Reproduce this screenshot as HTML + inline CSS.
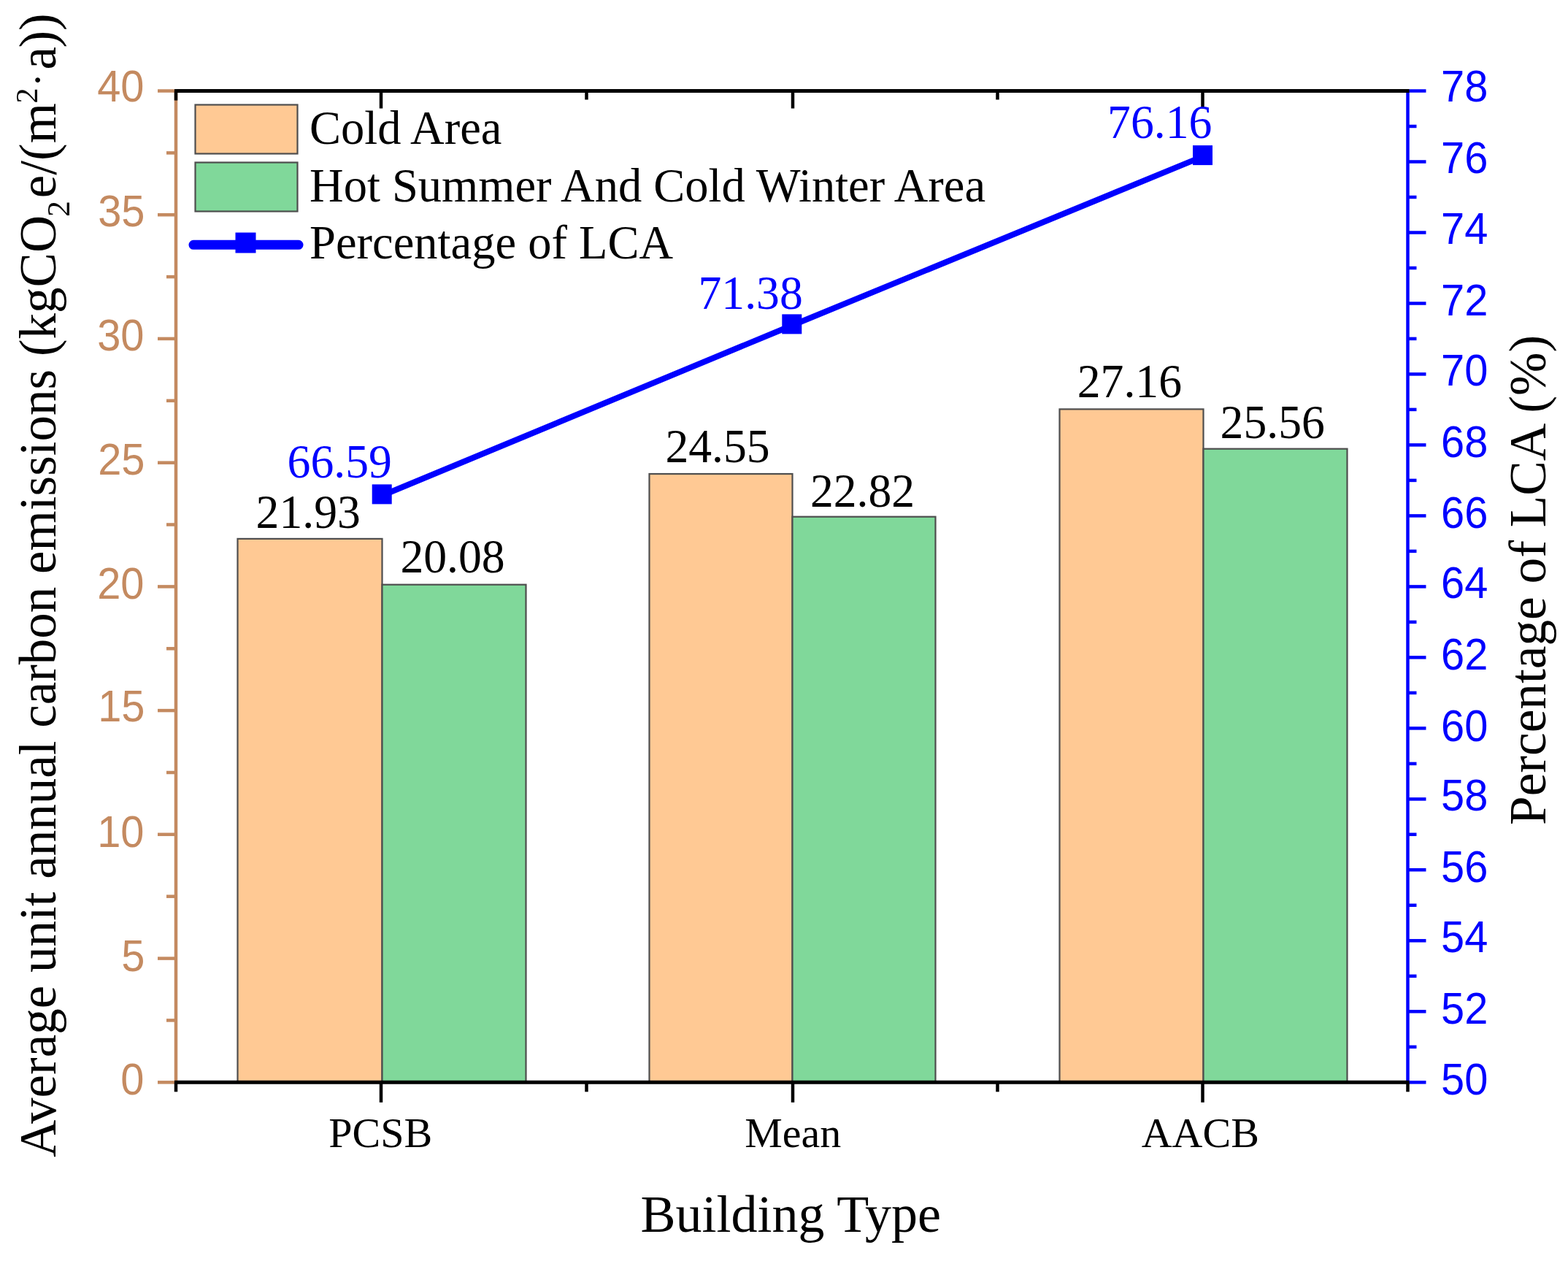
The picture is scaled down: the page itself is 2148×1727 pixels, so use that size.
<!DOCTYPE html>
<html><head><meta charset="utf-8"><title>Building Type chart</title>
<style>html,body{margin:0;padding:0;background:#fff;width:2148px;height:1727px;overflow:hidden}svg{display:block}</style>
</head><body>
<svg width="2148" height="1727" viewBox="0 0 2148 1727">
<rect width="2148" height="1727" fill="#fff"/>
<rect x="325.5" y="737.9" width="198.0" height="744.4" fill="#FFC994" stroke="#4e4e4e" stroke-width="2.2"/>
<rect x="523.5" y="800.7" width="197.0" height="681.6" fill="#80D89A" stroke="#4e4e4e" stroke-width="2.2"/>
<rect x="889.5" y="649.0" width="196.0" height="833.3" fill="#FFC994" stroke="#4e4e4e" stroke-width="2.2"/>
<rect x="1085.5" y="707.7" width="196.0" height="774.6" fill="#80D89A" stroke="#4e4e4e" stroke-width="2.2"/>
<rect x="1451.5" y="560.4" width="197.0" height="921.9" fill="#FFC994" stroke="#4e4e4e" stroke-width="2.2"/>
<rect x="1648.5" y="614.7" width="197.0" height="867.6" fill="#80D89A" stroke="#4e4e4e" stroke-width="2.2"/>
<line x1="241" y1="124.5" x2="241" y2="1482.3" stroke="#C48A60" stroke-width="4.5"/>
<line x1="216" y1="1482.3" x2="241" y2="1482.3" stroke="#C48A60" stroke-width="4.5"/>
<line x1="228" y1="1397.4" x2="241" y2="1397.4" stroke="#C48A60" stroke-width="4.5"/>
<line x1="216" y1="1312.6" x2="241" y2="1312.6" stroke="#C48A60" stroke-width="4.5"/>
<line x1="228" y1="1227.7" x2="241" y2="1227.7" stroke="#C48A60" stroke-width="4.5"/>
<line x1="216" y1="1142.8" x2="241" y2="1142.8" stroke="#C48A60" stroke-width="4.5"/>
<line x1="228" y1="1058.0" x2="241" y2="1058.0" stroke="#C48A60" stroke-width="4.5"/>
<line x1="216" y1="973.1" x2="241" y2="973.1" stroke="#C48A60" stroke-width="4.5"/>
<line x1="228" y1="888.3" x2="241" y2="888.3" stroke="#C48A60" stroke-width="4.5"/>
<line x1="216" y1="803.4" x2="241" y2="803.4" stroke="#C48A60" stroke-width="4.5"/>
<line x1="228" y1="718.5" x2="241" y2="718.5" stroke="#C48A60" stroke-width="4.5"/>
<line x1="216" y1="633.7" x2="241" y2="633.7" stroke="#C48A60" stroke-width="4.5"/>
<line x1="228" y1="548.8" x2="241" y2="548.8" stroke="#C48A60" stroke-width="4.5"/>
<line x1="216" y1="463.9" x2="241" y2="463.9" stroke="#C48A60" stroke-width="4.5"/>
<line x1="228" y1="379.1" x2="241" y2="379.1" stroke="#C48A60" stroke-width="4.5"/>
<line x1="216" y1="294.2" x2="241" y2="294.2" stroke="#C48A60" stroke-width="4.5"/>
<line x1="228" y1="209.4" x2="241" y2="209.4" stroke="#C48A60" stroke-width="4.5"/>
<line x1="216" y1="124.5" x2="241" y2="124.5" stroke="#C48A60" stroke-width="4.5"/>
<line x1="1928.5" y1="124.5" x2="1928.5" y2="1482.3" stroke="#0000FF" stroke-width="4.5"/>
<line x1="1928.5" y1="1482.3" x2="1953.5" y2="1482.3" stroke="#0000FF" stroke-width="4.5"/>
<line x1="1928.5" y1="1433.8" x2="1940.5" y2="1433.8" stroke="#0000FF" stroke-width="4.5"/>
<line x1="1928.5" y1="1385.3" x2="1953.5" y2="1385.3" stroke="#0000FF" stroke-width="4.5"/>
<line x1="1928.5" y1="1336.8" x2="1940.5" y2="1336.8" stroke="#0000FF" stroke-width="4.5"/>
<line x1="1928.5" y1="1288.3" x2="1953.5" y2="1288.3" stroke="#0000FF" stroke-width="4.5"/>
<line x1="1928.5" y1="1239.8" x2="1940.5" y2="1239.8" stroke="#0000FF" stroke-width="4.5"/>
<line x1="1928.5" y1="1191.3" x2="1953.5" y2="1191.3" stroke="#0000FF" stroke-width="4.5"/>
<line x1="1928.5" y1="1142.8" x2="1940.5" y2="1142.8" stroke="#0000FF" stroke-width="4.5"/>
<line x1="1928.5" y1="1094.4" x2="1953.5" y2="1094.4" stroke="#0000FF" stroke-width="4.5"/>
<line x1="1928.5" y1="1045.9" x2="1940.5" y2="1045.9" stroke="#0000FF" stroke-width="4.5"/>
<line x1="1928.5" y1="997.4" x2="1953.5" y2="997.4" stroke="#0000FF" stroke-width="4.5"/>
<line x1="1928.5" y1="948.9" x2="1940.5" y2="948.9" stroke="#0000FF" stroke-width="4.5"/>
<line x1="1928.5" y1="900.4" x2="1953.5" y2="900.4" stroke="#0000FF" stroke-width="4.5"/>
<line x1="1928.5" y1="851.9" x2="1940.5" y2="851.9" stroke="#0000FF" stroke-width="4.5"/>
<line x1="1928.5" y1="803.4" x2="1953.5" y2="803.4" stroke="#0000FF" stroke-width="4.5"/>
<line x1="1928.5" y1="754.9" x2="1940.5" y2="754.9" stroke="#0000FF" stroke-width="4.5"/>
<line x1="1928.5" y1="706.4" x2="1953.5" y2="706.4" stroke="#0000FF" stroke-width="4.5"/>
<line x1="1928.5" y1="657.9" x2="1940.5" y2="657.9" stroke="#0000FF" stroke-width="4.5"/>
<line x1="1928.5" y1="609.4" x2="1953.5" y2="609.4" stroke="#0000FF" stroke-width="4.5"/>
<line x1="1928.5" y1="560.9" x2="1940.5" y2="560.9" stroke="#0000FF" stroke-width="4.5"/>
<line x1="1928.5" y1="512.4" x2="1953.5" y2="512.4" stroke="#0000FF" stroke-width="4.5"/>
<line x1="1928.5" y1="463.9" x2="1940.5" y2="463.9" stroke="#0000FF" stroke-width="4.5"/>
<line x1="1928.5" y1="415.5" x2="1953.5" y2="415.5" stroke="#0000FF" stroke-width="4.5"/>
<line x1="1928.5" y1="367.0" x2="1940.5" y2="367.0" stroke="#0000FF" stroke-width="4.5"/>
<line x1="1928.5" y1="318.5" x2="1953.5" y2="318.5" stroke="#0000FF" stroke-width="4.5"/>
<line x1="1928.5" y1="270.0" x2="1940.5" y2="270.0" stroke="#0000FF" stroke-width="4.5"/>
<line x1="1928.5" y1="221.5" x2="1953.5" y2="221.5" stroke="#0000FF" stroke-width="4.5"/>
<line x1="1928.5" y1="173.0" x2="1940.5" y2="173.0" stroke="#0000FF" stroke-width="4.5"/>
<line x1="1928.5" y1="124.5" x2="1953.5" y2="124.5" stroke="#0000FF" stroke-width="4.5"/>
<line x1="239" y1="124.5" x2="1930.5" y2="124.5" stroke="#000" stroke-width="5"/>
<line x1="241" y1="124.5" x2="241" y2="137.5" stroke="#000" stroke-width="4.5"/>
<line x1="239" y1="1482.3" x2="1930.5" y2="1482.3" stroke="#000" stroke-width="5"/>
<line x1="241.0" y1="1482.3" x2="241.0" y2="1495.3" stroke="#000" stroke-width="4.5"/>
<line x1="522.0" y1="1482.3" x2="522.0" y2="1509.8" stroke="#000" stroke-width="4.5"/>
<line x1="522.0" y1="124.5" x2="522.0" y2="148.5" stroke="#000" stroke-width="4.5"/>
<line x1="803.5" y1="1482.3" x2="803.5" y2="1495.3" stroke="#000" stroke-width="4.5"/>
<line x1="803.5" y1="124.5" x2="803.5" y2="136.5" stroke="#000" stroke-width="4.5"/>
<line x1="1086.0" y1="1482.3" x2="1086.0" y2="1509.8" stroke="#000" stroke-width="4.5"/>
<line x1="1086.0" y1="124.5" x2="1086.0" y2="148.5" stroke="#000" stroke-width="4.5"/>
<line x1="1366.5" y1="1482.3" x2="1366.5" y2="1495.3" stroke="#000" stroke-width="4.5"/>
<line x1="1366.5" y1="124.5" x2="1366.5" y2="136.5" stroke="#000" stroke-width="4.5"/>
<line x1="1647.5" y1="1482.3" x2="1647.5" y2="1509.8" stroke="#000" stroke-width="4.5"/>
<line x1="1647.5" y1="124.5" x2="1647.5" y2="148.5" stroke="#000" stroke-width="4.5"/>
<line x1="1928.5" y1="1482.3" x2="1928.5" y2="1495.3" stroke="#000" stroke-width="4.5"/>
<polyline points="523.2,678.7 1084.8,445.7 1647.5,214.4" fill="none" stroke="#0000FF" stroke-width="8"/>
<rect x="509.7" y="663.4" width="27" height="27" fill="#0000FF"/>
<rect x="1071.3" y="430.4" width="27" height="27" fill="#0000FF"/>
<rect x="1634.0" y="199.1" width="27" height="27" fill="#0000FF"/>
<text id="l0" transform="translate(197.50,1499.20) scale(0.94,1)" text-anchor="end" font-family="Liberation Sans, Arial, sans-serif" font-size="61.5" fill="#C48A60">0</text>
<text id="l5" transform="translate(198.50,1330.47) scale(0.94,1)" text-anchor="end" font-family="Liberation Sans, Arial, sans-serif" font-size="61.5" fill="#C48A60">5</text>
<text id="l10" transform="translate(197.50,1159.85) scale(0.94,1)" text-anchor="end" font-family="Liberation Sans, Arial, sans-serif" font-size="61.5" fill="#C48A60">10</text>
<text id="l15" transform="translate(198.50,987.52) scale(0.94,1)" text-anchor="end" font-family="Liberation Sans, Arial, sans-serif" font-size="61.5" fill="#C48A60">15</text>
<text id="l20" transform="translate(197.50,819.60) scale(0.94,1)" text-anchor="end" font-family="Liberation Sans, Arial, sans-serif" font-size="61.5" fill="#C48A60">20</text>
<text id="l25" transform="translate(198.50,649.57) scale(0.94,1)" text-anchor="end" font-family="Liberation Sans, Arial, sans-serif" font-size="61.5" fill="#C48A60">25</text>
<text id="l30" transform="translate(197.50,479.95) scale(0.94,1)" text-anchor="end" font-family="Liberation Sans, Arial, sans-serif" font-size="61.5" fill="#C48A60">30</text>
<text id="l35" transform="translate(198.50,310.12) scale(0.94,1)" text-anchor="end" font-family="Liberation Sans, Arial, sans-serif" font-size="61.5" fill="#C48A60">35</text>
<text id="l40" transform="translate(197.50,138.90) scale(0.94,1)" text-anchor="end" font-family="Liberation Sans, Arial, sans-serif" font-size="61.5" fill="#C48A60">40</text>
<text id="r50" transform="translate(1974.00,1499.30) scale(0.94,1)" font-family="Liberation Sans, Arial, sans-serif" font-size="61.5" fill="#0000FF">50</text>
<text id="r52" transform="translate(1974.00,1401.61) scale(0.94,1)" font-family="Liberation Sans, Arial, sans-serif" font-size="61.5" fill="#0000FF">52</text>
<text id="r54" transform="translate(1974.00,1303.73) scale(0.94,1)" font-family="Liberation Sans, Arial, sans-serif" font-size="61.5" fill="#0000FF">54</text>
<text id="r56" transform="translate(1974.00,1208.04) scale(0.94,1)" font-family="Liberation Sans, Arial, sans-serif" font-size="61.5" fill="#0000FF">56</text>
<text id="r58" transform="translate(1974.00,1109.96) scale(0.94,1)" font-family="Liberation Sans, Arial, sans-serif" font-size="61.5" fill="#0000FF">58</text>
<text id="r60" transform="translate(1974.00,1014.97) scale(0.94,1)" font-family="Liberation Sans, Arial, sans-serif" font-size="61.5" fill="#0000FF">60</text>
<text id="r62" transform="translate(1974.00,917.09) scale(0.94,1)" font-family="Liberation Sans, Arial, sans-serif" font-size="61.5" fill="#0000FF">62</text>
<text id="r64" transform="translate(1974.00,819.00) scale(0.94,1)" font-family="Liberation Sans, Arial, sans-serif" font-size="61.5" fill="#0000FF">64</text>
<text id="r66" transform="translate(1974.00,722.61) scale(0.94,1)" font-family="Liberation Sans, Arial, sans-serif" font-size="61.5" fill="#0000FF">66</text>
<text id="r68" transform="translate(1974.00,625.73) scale(0.94,1)" font-family="Liberation Sans, Arial, sans-serif" font-size="61.5" fill="#0000FF">68</text>
<text id="r70" transform="translate(1974.00,528.04) scale(0.94,1)" font-family="Liberation Sans, Arial, sans-serif" font-size="61.5" fill="#0000FF">70</text>
<text id="r72" transform="translate(1974.00,431.66) scale(0.94,1)" font-family="Liberation Sans, Arial, sans-serif" font-size="61.5" fill="#0000FF">72</text>
<text id="r74" transform="translate(1974.00,333.67) scale(0.94,1)" font-family="Liberation Sans, Arial, sans-serif" font-size="61.5" fill="#0000FF">74</text>
<text id="r76" transform="translate(1974.00,236.89) scale(0.94,1)" font-family="Liberation Sans, Arial, sans-serif" font-size="61.5" fill="#0000FF">76</text>
<text id="r78" transform="translate(1974.00,138.80) scale(0.94,1)" font-family="Liberation Sans, Arial, sans-serif" font-size="61.5" fill="#0000FF">78</text>
<text id="d0" transform="translate(422.20,723.30) scale(0.965,1)" font-family="Liberation Serif, Times New Roman, serif" font-size="66" fill="#000" text-anchor="middle">21.93</text>
<text id="d1" transform="translate(620.05,784.10) scale(0.965,1)" font-family="Liberation Serif, Times New Roman, serif" font-size="66" fill="#000" text-anchor="middle">20.08</text>
<text id="d2" transform="translate(983.05,633.30) scale(0.965,1)" font-family="Liberation Serif, Times New Roman, serif" font-size="66" fill="#000" text-anchor="middle">24.55</text>
<text id="d3" transform="translate(1181.55,693.50) scale(0.965,1)" font-family="Liberation Serif, Times New Roman, serif" font-size="66" fill="#000" text-anchor="middle">22.82</text>
<text id="d4" transform="translate(1547.35,543.70) scale(0.965,1)" font-family="Liberation Serif, Times New Roman, serif" font-size="66" fill="#000" text-anchor="middle">27.16</text>
<text id="d5" transform="translate(1743.20,599.60) scale(0.965,1)" font-family="Liberation Serif, Times New Roman, serif" font-size="66" fill="#000" text-anchor="middle">25.56</text>
<text id="p0" transform="translate(465.25,654.20) scale(0.965,1)" font-family="Liberation Serif, Times New Roman, serif" font-size="66" fill="#0000FF" text-anchor="middle">66.59</text>
<text id="p1" transform="translate(1028.10,423.00) scale(0.965,1)" font-family="Liberation Serif, Times New Roman, serif" font-size="66" fill="#0000FF" text-anchor="middle">71.38</text>
<text id="p2" transform="translate(1588.70,189.30) scale(0.965,1)" font-family="Liberation Serif, Times New Roman, serif" font-size="66" fill="#0000FF" text-anchor="middle">76.16</text>
<rect x="267.5" y="143.5" width="140" height="67" fill="#FFC994" stroke="#4e4e4e" stroke-width="2.2"/>
<rect x="267.5" y="222.5" width="140" height="67" fill="#80D89A" stroke="#4e4e4e" stroke-width="2.2"/>
<line x1="265" y1="335.3" x2="409" y2="335.3" stroke="#0000FF" stroke-width="13" stroke-linecap="round"/>
<rect x="322.5" y="318.5" width="28" height="28" fill="#0000FF"/>
<text id="g0" x="424.10" y="197.00" font-family="Liberation Serif, Times New Roman, serif" font-size="64.5" fill="#000" text-anchor="start">Cold Area</text>
<text id="g1" x="424.10" y="276.00" font-family="Liberation Serif, Times New Roman, serif" font-size="64.5" fill="#000" text-anchor="start">Hot Summer And Cold Winter Area</text>
<text id="g2" x="424.10" y="354.00" font-family="Liberation Serif, Times New Roman, serif" font-size="64.5" fill="#000" text-anchor="start">Percentage of LCA</text>
<text id="x0" x="521.30" y="1570.60" font-family="Liberation Serif, Times New Roman, serif" font-size="58" fill="#000" text-anchor="middle">PCSB</text>
<text id="x1" x="1086.20" y="1570.60" font-family="Liberation Serif, Times New Roman, serif" font-size="58" fill="#000" text-anchor="middle">Mean</text>
<text id="x2" x="1644.30" y="1570.60" font-family="Liberation Serif, Times New Roman, serif" font-size="58" fill="#000" text-anchor="middle">AACB</text>
<text id="bt" x="1083.25" y="1686.50" font-family="Liberation Serif, Times New Roman, serif" font-size="72" fill="#000" text-anchor="middle">Building Type</text>
<g transform="translate(75.5,1585) rotate(-90)">
<text x="0" y="0" font-family="Liberation Serif, Times New Roman, serif" fill="#000" font-size="71">Average unit annual carbon emissions (kgCO</text>
<text x="1288" y="19" font-family="Liberation Serif, Times New Roman, serif" fill="#000" font-size="44">2</text>
<text x="1313.8" y="0" font-family="Liberation Serif, Times New Roman, serif" fill="#000" font-size="71">e/(m</text>
<text x="1443.5" y="-24.8" font-family="Liberation Serif, Times New Roman, serif" fill="#000" font-size="42">2</text>
<text x="1466" y="-4.7" font-family="Liberation Serif, Times New Roman, serif" fill="#000" font-size="56">·</text>
<text x="1489.4" y="0" font-family="Liberation Serif, Times New Roman, serif" fill="#000" font-size="71">a<tspan dx="-1.5">))</tspan></text>
</g>
<text transform="translate(2116.5,1130) rotate(-90)" font-family="Liberation Serif, Times New Roman, serif" fill="#000" font-size="71.3">Percentage of LCA (%)</text>
</svg>
</body></html>
